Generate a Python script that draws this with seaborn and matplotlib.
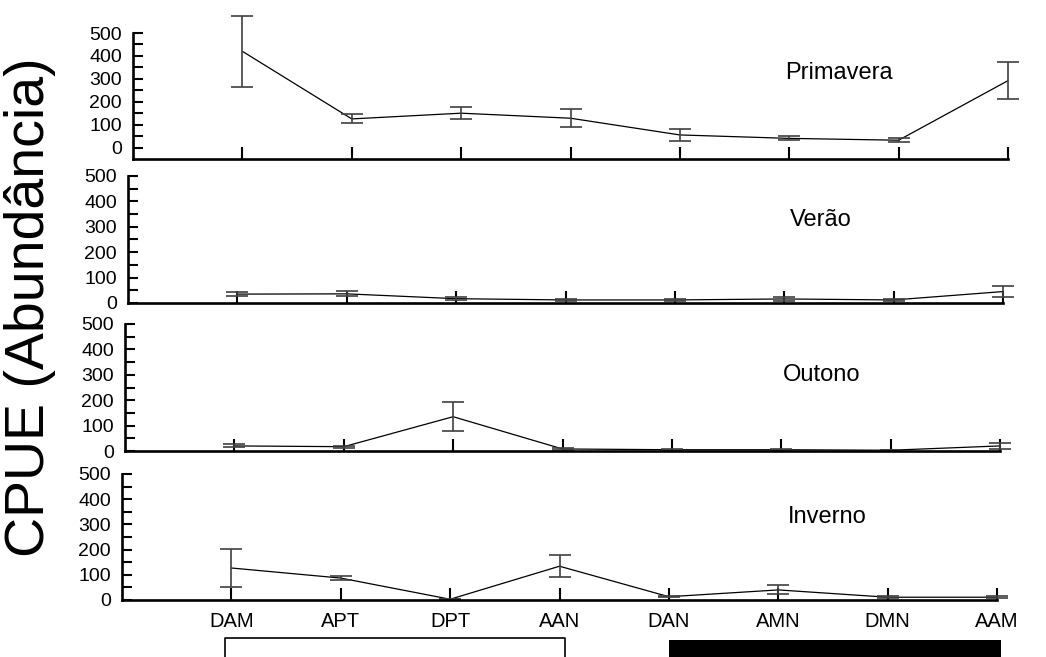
import numpy as np
import pandas as pd
import matplotlib
matplotlib.use("Agg")
import matplotlib.pyplot as plt
import matplotlib.transforms as mtransforms
from matplotlib.ticker import FixedLocator
import seaborn as sns

periods = ["DAM", "APT", "DPT", "AAN", "DAN", "AMN", "DMN", "AAM"]
seasons = ["Primavera", "Verão", "Outono", "Inverno"]

prim_mean = [420, 125, 150, 128, 55, 40, 32, 292]
prim_err = [155, 20, 27, 40, 25, 9, 8, 82]
ver_mean = [35, 36, 17, 12, 12, 16, 12, 45]
ver_err = [9, 10, 6, 5, 5, 8, 5, 21]
out_mean = [20, 17, 135, 8, 5, 5, 3, 20]
out_err = [6, 4, 57, 3, 2, 2, 1, 11]
inv_mean = [127, 87, 3, 134, 13, 40, 11, 11]
inv_err = [77, 9, 1, 43, 3, 18, 4, 4]

means = [prim_mean, ver_mean, out_mean, inv_mean]
errs = [prim_err, ver_err, out_err, inv_err]

sns.set_style("ticks", {"axes.edgecolor": "black", "text.color": "black",
                        "xtick.color": "black", "ytick.color": "black"})
plt.rcParams["font.family"] = ["Liberation Sans", "DejaVu Sans"]

W, H = 1046, 657
fig = plt.figure(figsize=(W / 100, H / 100), dpi=100)

# panel boxes in pixels: left, top, bottom
boxes = [(133, 33, 159), (128, 176, 303), (125, 324, 451), (122, 474, 600)]
ylims = [(-50, 500), (0, 500), (0, 500), (0, 500)]
label_pos = [(5.45, 0.68), (5.33, 0.65), (5.37, 0.60), (5.45, 0.66)]
width = 875

axes = []
for i, (left, top, bottom) in enumerate(boxes):
    ax = fig.add_axes([left / W, 1 - bottom / H, width / W, (bottom - top) / H])
    axes.append(ax)
    df = pd.DataFrame({"pos": np.arange(len(periods)), "cpue": means[i]})
    sns.lineplot(data=df, x="pos", y="cpue", ax=ax, color="black", linewidth=0.9)
    eb = ax.errorbar(df["pos"], df["cpue"], yerr=errs[i], fmt="none",
                     ecolor="0.25", elinewidth=1.2, capsize=8, capthick=1.2)
    for art in eb.get_children():
        art.set_clip_on(False)
    for ln in ax.lines:
        ln.set_clip_on(False)

    ax.set_xlim(-1, 7)
    ax.set_ylim(*ylims[i])
    ax.set_yticks(np.arange(0, 501, 100))
    ax.yaxis.set_minor_locator(FixedLocator(np.arange(50, 500, 100)))
    ax.set_xticks(np.arange(len(periods)))
    if i == 3:
        ax.set_xticklabels(periods, fontsize=14.5)
    else:
        ax.set_xticklabels([])
    ax.set_xlabel("")
    ax.set_ylabel("")

    sns.despine(ax=ax)
    ax.spines["left"].set_linewidth(1.9)
    ax.spines["bottom"].set_linewidth(1.9)
    ax.tick_params(axis="x", direction="in", length=9, width=1.5, pad=8.5)
    ax.tick_params(axis="y", which="both", direction="in", length=7, width=1.5,
                   pad=8, labelsize=14)
    ax.patch.set_alpha(0)

    tx, ty = label_pos[i]
    ax.text(tx, ty, seasons[i], transform=ax.get_xaxis_transform(),
            ha="center", va="center", fontsize=17)

fig.text(30 / W, 1 - 307 / H, "CPUE (Abundância)", rotation=90,
         ha="center", va="center", fontsize=40)

# day / night bars under the last panel
ax = axes[3]
trans = mtransforms.blended_transform_factory(ax.transData, fig.transFigure)
ax.plot([-0.06, -0.06, 3.05, 3.05], [0, 1 - 638 / H, 1 - 638 / H, 0],
        color="black", linewidth=1.2, transform=trans, clip_on=False)
ax.add_patch(plt.Rectangle((4.0, 0), 3.04, (657 - 640) / H, transform=trans,
                           facecolor="black", edgecolor="none", clip_on=False))

fig.savefig("out.png", dpi=100)
